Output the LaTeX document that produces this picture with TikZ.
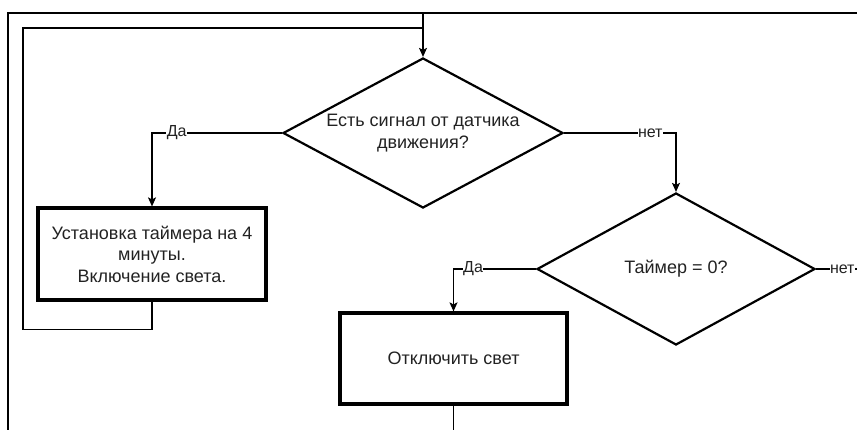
\documentclass[tikz,border=0pt]{standalone}
\usepackage{fontspec}
\setmainfont{Liberation Sans}
\usetikzlibrary{shapes.geometric,arrows.meta}
\definecolor{txt}{HTML}{222222}
\begin{document}
\begin{tikzpicture}[x=1pt,y=-1pt,
  conn/.style={line width=1.2pt,draw=black},
  arr/.style={conn,-{Stealth[length=9pt,width=8pt,inset=2pt]}},
  decision/.style={diamond,draw=black,line width=2.2pt,inner sep=0pt,
    label={[text=txt,font=\fontsize{18}{22.5}\selectfont,align=center]center:#1}},
  procbox/.style={rectangle,draw=black,line width=3.2pt,inner sep=0pt,
    text=txt,font=\fontsize{18}{21.5}\selectfont,align=center},
  lbl/.style={fill=white,inner sep=0.5pt,text=txt,font=\fontsize{16}{18}\selectfont}]
\useasboundingbox (0,0) rectangle (857,430);
% nodes
\node[decision={Есть сигнал от датчика\\движения?},minimum width=280pt,minimum height=150pt] (d1) at (423,133) {};
\node[procbox,minimum width=228pt,minimum height=92pt] (b1) at (152,254) {Установка таймера на 4\\минуты.\\Включение света.};
\node[decision={Таймер = 0?},minimum width=278pt,minimum height=152pt] (d2) at (676,269) {};
\node[procbox,minimum width=227pt,minimum height=91pt] (b2) at (453.5,358.5) {Отключить свет};
% free ends
\coordinate (TR) at (857,13);
\coordinate (TL) at (8,13);
\coordinate (BL) at (8,430);
\coordinate (TJ) at (423,13);
\coordinate (LJ) at (423,28);
\coordinate (RE) at (857,269);
\coordinate (BE) at (453.5,430);
% connectors
\draw[conn] (TR) -- (TL) -- (BL);
\draw[arr] (TJ) -- (d1.north);
\draw[conn] (b1.south) -- ++(0,28) -| (23,28) -- (LJ);
\draw[arr] (d1.west) -| node[lbl,pos=0.405]{Да} (b1.north);
\draw[arr] (d1.east) -| node[lbl,pos=0.385]{нет} (d2.north);
\draw[arr] (d2.west) -| node[lbl,pos=0.381]{Да} (b2.north);
\draw[conn] (d2.east) -- node[lbl,pos=0.64]{нет} (RE);
\draw[conn] (b2.south) -- (BE);
\end{tikzpicture}
\end{document}
